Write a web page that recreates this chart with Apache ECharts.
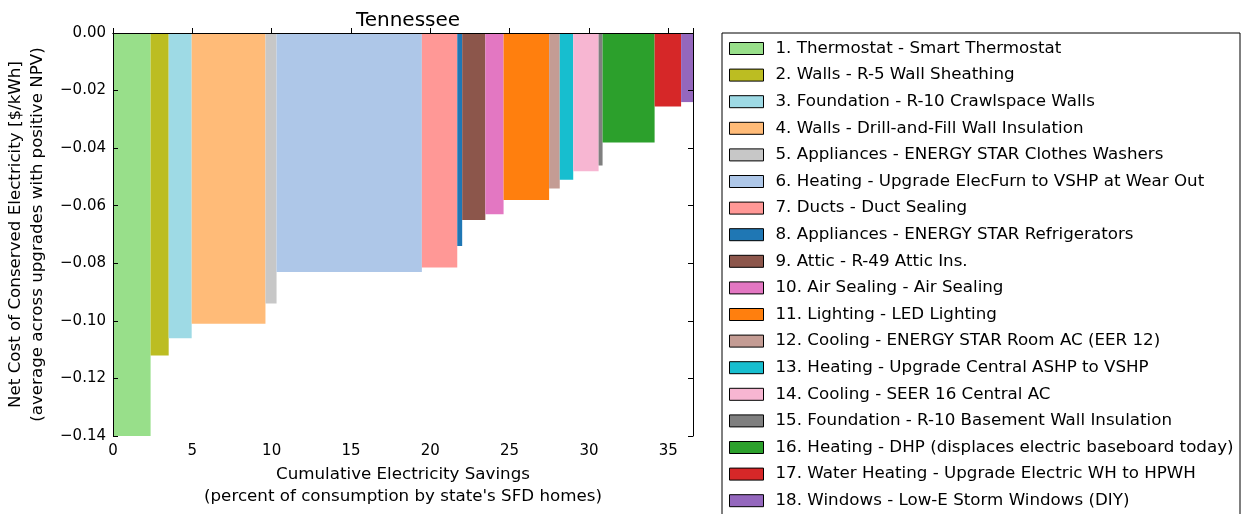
<!DOCTYPE html>
<html lang="en">
<head>
<meta charset="UTF-8">
<title>Tennessee</title>
<script src="https://cdn.jsdelivr.net/npm/echarts@6/dist/echarts.min.js"></script>
<style>
  html, body { margin: 0; padding: 0; background: #fff; }
  #chart { width: 1245px; height: 514px; }
</style>
</head>
<body>
<div id="chart"></div>
<script>
// upgrade names (legend order = bar order)
var upgrades = [
    '1. Thermostat - Smart Thermostat',
    '2. Walls - R-5 Wall Sheathing',
    '3. Foundation - R-10 Crawlspace Walls',
    '4. Walls - Drill-and-Fill Wall Insulation',
    '5. Appliances - ENERGY STAR Clothes Washers',
    '6. Heating - Upgrade ElecFurn to VSHP at Wear Out',
    '7. Ducts - Duct Sealing',
    '8. Appliances - ENERGY STAR Refrigerators',
    '9. Attic - R-49 Attic Ins.',
    '10. Air Sealing - Air Sealing',
    '11. Lighting - LED Lighting',
    '12. Cooling - ENERGY STAR Room AC (EER 12)',
    '13. Heating - Upgrade Central ASHP to VSHP',
    '14. Cooling - SEER 16 Central AC',
    '15. Foundation - R-10 Basement Wall Insulation',
    '16. Heating - DHP (displaces electric baseboard today)',
    '17. Water Heating - Upgrade Electric WH to HPWH',
    '18. Windows - Low-E Storm Windows (DIY)'
];
// electricity savings of each upgrade (% of consumption) = bar width
var savings = [2.37, 1.14, 1.45, 4.65, 0.70, 9.16, 2.23, 0.31, 1.46, 1.15,
               2.87, 0.67, 0.85, 1.60, 0.25, 3.28, 1.67, 0.75];
// net cost of conserved electricity [$/kWh] = bar height
var costs = [-0.148, -0.112, -0.106, -0.101, -0.094, -0.083, -0.0815, -0.074, -0.065, -0.063,
             -0.058, -0.054, -0.051, -0.048, -0.046, -0.038, -0.0255, -0.024];
var colors = ['#98df8a', '#bcbd22', '#9edae5', '#ffbb78', '#c7c7c7', '#aec7e8',
              '#ff9896', '#1f77b4', '#8c564b', '#e377c2', '#ff7f0e', '#c49c94',
              '#17becf', '#f7b6d2', '#7f7f7f', '#2ca02c', '#d62728', '#9467bd'];
var yTicks = [-0.14, -0.12, -0.10, -0.08, -0.06, -0.04, -0.02, 0.00];

var font = 'DejaVu Sans';
var total = 0;
var series = [];
for (var i = 0; i < upgrades.length; i++) {
    var start = total;
    total += savings[i];
    series.push({
        name: upgrades[i],
        type: 'custom',
        xAxisIndex: 0,
        yAxisIndex: 0,
        itemStyle: { color: colors[i] },
        data: [[start, total, costs[i]]],
        renderItem: function (params, api) {
            var p0 = api.coord([api.value(0), 0]);
            var p1 = api.coord([api.value(1), api.value(2)]);
            var rect = echarts.graphic.clipRectByRect(
                { x: p0[0], y: p0[1], width: p1[0] - p0[0], height: p1[1] - p0[1] },
                params.coordSys);
            return rect && { type: 'rect', shape: rect, style: { fill: api.visual('color') } };
        }
    });
}

var chart = echarts.init(document.getElementById('chart'));
var tick = { inside: true, length: 5, lineStyle: { color: '#000' } };
chart.setOption({
    animation: false,
    textStyle: { fontFamily: font },
    title: {
        text: 'Tennessee',
        left: 403, top: 6, textAlign: 'center',
        textStyle: { fontFamily: font, fontSize: 20, fontWeight: 'normal', color: '#000' }
    },
    grid: { left: 113, top: 33, right: 552, bottom: 78 },
    xAxis: [{
        type: 'value', min: 0, max: total, interval: 5, z: 10,
        name: 'Cumulative Electricity Savings\n(percent of consumption by state\'s SFD homes)',
        nameLocation: 'middle', nameGap: 26,
        nameTextStyle: { color: '#000', fontFamily: font, fontSize: 16.7, lineHeight: 22 },
        axisLine: { lineStyle: { color: '#000' } },
        axisTick: tick,
        axisLabel: { color: '#000', fontFamily: font, fontSize: 15, showMaxLabel: false, margin: 8 },
        splitLine: { show: false }
    }, {
        type: 'value', position: 'top', min: 0, max: total, interval: 5, z: 10,
        axisLine: { show: true, onZero: false, lineStyle: { color: '#000' } },
        axisTick: { inside: false, length: 5, lineStyle: { color: '#000' } },
        axisLabel: { show: false },
        splitLine: { show: false }
    }],
    yAxis: [{
        type: 'value', min: yTicks[0], max: yTicks[yTicks.length - 1], interval: 0.02, z: 10,
        name: 'Net Cost of Conserved Electricity [$/kWh]\n(average across upgrades with positive NPV)',
        nameLocation: 'middle', nameGap: 64,
        nameTextStyle: { color: '#000', fontFamily: font, fontSize: 16.7, lineHeight: 22 },
        axisLine: { show: true, onZero: false, lineStyle: { color: '#000' } },
        axisTick: tick,
        axisLabel: {
            color: '#000', fontFamily: font, fontSize: 15, margin: 7,
            formatter: function (v) { return v.toFixed(2).replace('-', '\u2212'); }
        },
        splitLine: { show: false }
    }, {
        type: 'value', position: 'right', min: yTicks[0], max: 0, interval: 0.02, z: 10,
        axisLine: { show: true, onZero: false, lineStyle: { color: '#000' } },
        axisTick: tick,
        axisLabel: { show: false },
        splitLine: { show: false }
    }],
    legend: {
        orient: 'vertical',
        left: 724, top: 35, height: 480,
        itemWidth: 34, itemHeight: 12, itemGap: 9.6,
        icon: 'rect',
        itemStyle: { borderColor: '#000', borderWidth: 1 },
        textStyle: { color: '#000', fontFamily: font, fontSize: 16.7, lineHeight: 17, padding: [0, 0, 0, 7] },
        data: upgrades
    },
    graphic: [{
        type: 'rect',
        shape: { x: 722, y: 33, width: 518, height: 490 },
        style: { fill: 'none', stroke: '#000', lineWidth: 1 },
        silent: true
    }],
    series: series
});
</script>
</body>
</html>
